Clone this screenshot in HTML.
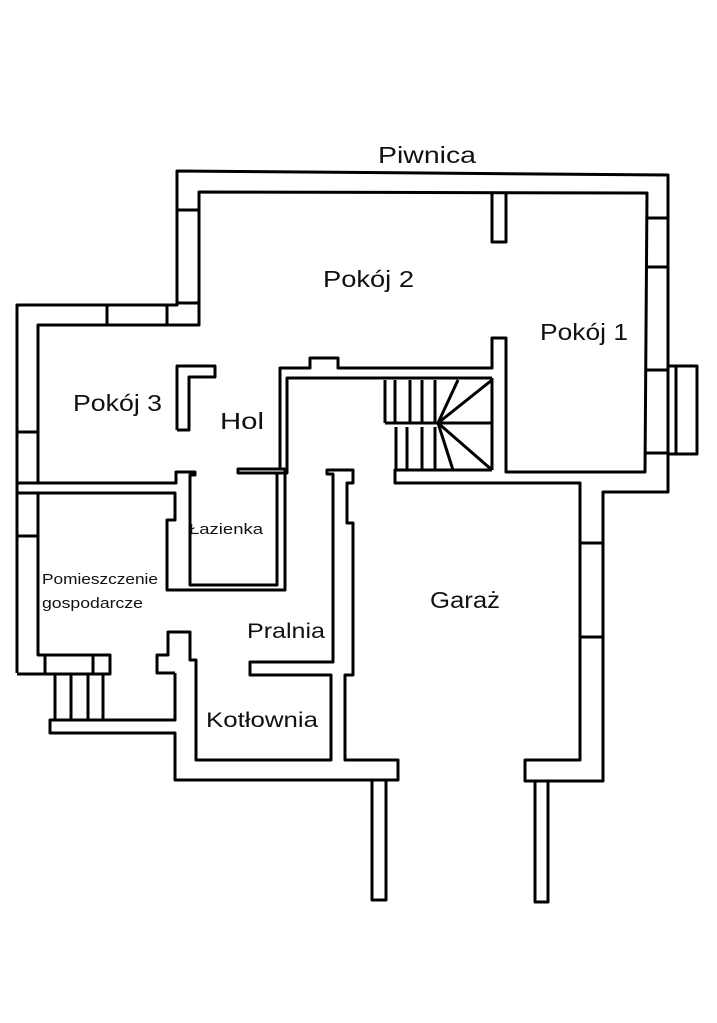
<!DOCTYPE html>
<html><head><meta charset="utf-8"><style>
html,body{margin:0;padding:0;background:#fff;}
svg{display:block}
text{font-family:"Liberation Sans",sans-serif;fill:#111}
</style></head><body>
<svg width="717" height="1023" viewBox="0 0 717 1023" xmlns="http://www.w3.org/2000/svg">
<g fill="none" stroke="#000" stroke-width="3" stroke-linejoin="round">
<polyline points="17,673 17,305 177,305 177,171 668,175 668,492 603,492 603,781 525,781 525,760 580,760 580,483 395,483 395,470 492,470"/>
<polyline points="38,483 38,325 199,325 199,192 647,193 645,472 506,472 506,338 492,338 492,368 338,368 338,358 310,358 310,368 280,368 280,470"/>
<polyline points="287,470 287,378 492,378"/>
<line x1="492" y1="378" x2="492" y2="470"/>
<line x1="177" y1="210" x2="199" y2="210"/>
<line x1="177" y1="303" x2="199" y2="303"/>
<line x1="107" y1="305" x2="107" y2="325"/>
<line x1="167" y1="305" x2="167" y2="325"/>
<line x1="17" y1="432" x2="38" y2="432"/>
<line x1="17" y1="483" x2="38" y2="483"/>
<line x1="17" y1="493" x2="38" y2="493"/>
<line x1="17" y1="536" x2="38" y2="536"/>
<line x1="647" y1="218" x2="668" y2="218"/>
<line x1="647" y1="267" x2="668" y2="267"/>
<line x1="645" y1="370" x2="668" y2="370"/>
<line x1="645" y1="453" x2="668" y2="453"/>
<line x1="580" y1="543" x2="603" y2="543"/>
<line x1="580" y1="637" x2="603" y2="637"/>
<polyline points="668,366 697,366 697,454 668,454"/>
<line x1="676" y1="366" x2="676" y2="454"/>
<polyline points="492,193 492,242 506,242 506,193"/>
<polyline points="177,430 177,366 215,366 215,377 189,377 189,430 177,430"/>
<polyline points="38,483 176,483 176,472 195,472 195,475 190,475 190,585 277,585 277,474"/>
<polyline points="38,493 175,493 175,520 167,520 167,590 285,590 285,470"/>
<rect x="238" y="469" width="49" height="4"/>
<polyline points="38,493 38,655 110,655 110,674 17,674"/>
<line x1="93" y1="655" x2="93" y2="674"/>
<line x1="45" y1="655" x2="45" y2="674"/>
<line x1="55" y1="674" x2="55" y2="720"/>
<line x1="71" y1="674" x2="71" y2="720"/>
<line x1="88" y1="674" x2="88" y2="720"/>
<line x1="103" y1="674" x2="103" y2="720"/>
<polyline points="175,673 175,720 50,720 50,733 175,733 175,780 398,780 398,760 345,760 345,675 353,675 353,523 347,523 347,483 353,483 353,470 327,470 327,474 333,474 333,662 250,662 250,675 331,675 331,760 196,760 196,660 190,660 190,632 168,632 168,655 157,655 157,673 175,673"/>
<polyline points="372,780 372,900 386,900 386,780"/>
<polyline points="535,781 535,902 548,902 548,781"/>
<line x1="385" y1="380" x2="385" y2="423"/>
<line x1="395" y1="380" x2="395" y2="423"/>
<line x1="410" y1="380" x2="410" y2="423"/>
<line x1="422" y1="380" x2="422" y2="423"/>
<line x1="435" y1="380" x2="435" y2="423"/>
<line x1="385" y1="423" x2="492" y2="423"/>
<line x1="396" y1="427" x2="396" y2="470"/>
<line x1="407" y1="427" x2="407" y2="470"/>
<line x1="422" y1="427" x2="422" y2="470"/>
<line x1="435" y1="427" x2="435" y2="470"/>
<line x1="438" y1="423" x2="458" y2="380"/>
<line x1="438" y1="423" x2="492" y2="380"/>
<line x1="438" y1="423" x2="453" y2="470"/>
<line x1="438" y1="423" x2="492" y2="470"/>
</g>
<text x="378" y="163" font-size="23" textLength="98" lengthAdjust="spacingAndGlyphs">Piwnica</text>
<text x="323" y="287" font-size="23" textLength="91" lengthAdjust="spacingAndGlyphs">Pokój 2</text>
<text x="540" y="340" font-size="23" textLength="88" lengthAdjust="spacingAndGlyphs">Pokój 1</text>
<text x="73" y="411" font-size="23" textLength="89" lengthAdjust="spacingAndGlyphs">Pokój 3</text>
<text x="220" y="429" font-size="23" textLength="44" lengthAdjust="spacingAndGlyphs">Hol</text>
<text x="189" y="534" font-size="15" textLength="74" lengthAdjust="spacingAndGlyphs">Łazienka</text>
<text x="42" y="584" font-size="15" textLength="116" lengthAdjust="spacingAndGlyphs">Pomieszczenie</text>
<text x="42" y="608" font-size="15" textLength="101" lengthAdjust="spacingAndGlyphs">gospodarcze</text>
<text x="430" y="608" font-size="23" textLength="70" lengthAdjust="spacingAndGlyphs">Garaż</text>
<text x="247" y="638" font-size="21" textLength="78" lengthAdjust="spacingAndGlyphs">Pralnia</text>
<text x="206" y="727" font-size="21" textLength="112" lengthAdjust="spacingAndGlyphs">Kotłownia</text>
</svg>
</body></html>
